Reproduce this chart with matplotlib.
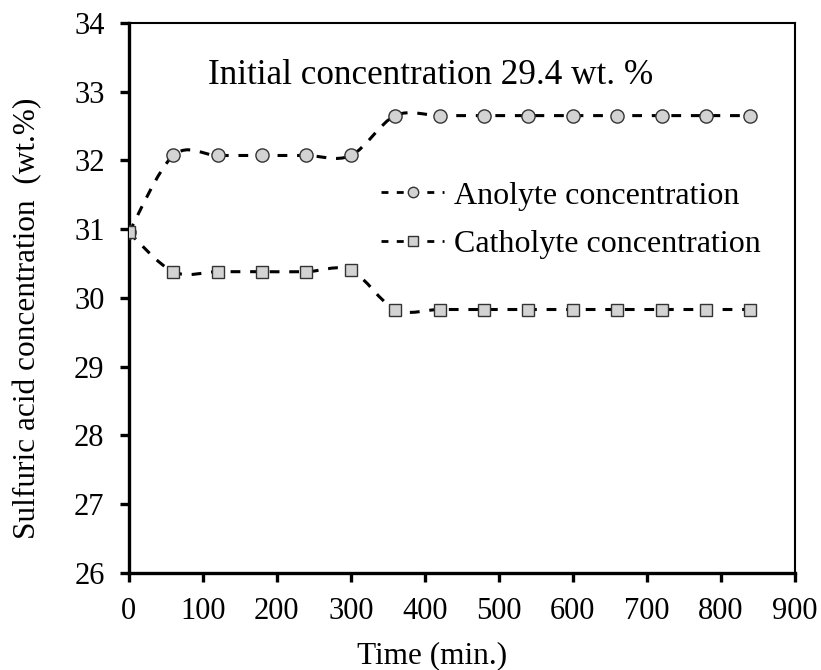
import numpy as np
import matplotlib.pyplot as plt
from matplotlib.path import Path
from matplotlib.patches import PathPatch
from matplotlib.lines import Line2D

plt.rcParams['font.family'] = ['Liberation Serif', 'DejaVu Serif']

# data
time = [0, 60, 120, 180, 240, 300, 360, 420, 480, 540, 600, 660, 720, 780, 840]
anolyte = [30.95, 32.07, 32.07, 32.07, 32.07, 32.07, 32.65, 32.65, 32.65,
           32.65, 32.65, 32.65, 32.65, 32.65, 32.65]
catholyte = [30.95, 30.38, 30.38, 30.38, 30.38, 30.40, 29.83, 29.83, 29.83,
             29.83, 29.83, 29.83, 29.83, 29.83, 29.83]


def smooth_path(x, y):
    # excel-like smoothed line: catmull-rom segments as cubic beziers
    x = np.asarray(x, float)
    y = np.asarray(y, float)
    verts = [(x[0], y[0])]
    codes = [Path.MOVETO]
    n = len(x)
    for i in range(n - 1):
        p0 = (x[max(i - 1, 0)], y[max(i - 1, 0)])
        p1 = (x[i], y[i])
        p2 = (x[i + 1], y[i + 1])
        p3 = (x[min(i + 2, n - 1)], y[min(i + 2, n - 1)])
        c1 = (p1[0] + (p2[0] - p0[0]) / 6, p1[1] + (p2[1] - p0[1]) / 6)
        c2 = (p2[0] - (p3[0] - p1[0]) / 6, p2[1] - (p3[1] - p1[1]) / 6)
        verts += [c1, c2, p2]
        codes += [Path.CURVE4] * 3
    return Path(verts, codes)


dash = (0, (3.2, 3.2))
fig = plt.figure(figsize=(8.21, 6.70), dpi=100)
ax = fig.add_axes([0.157, 0.145, 0.811, 0.821])

for yy in (anolyte, catholyte):
    ax.add_patch(PathPatch(smooth_path(time, yy), fill=False, ec='black',
                           lw=2.2, ls=dash, zorder=2))

ax.plot(time, anolyte, ls='none', marker='o', ms=9.5, mfc='#d3d3d3',
        mec='#333333', mew=1, zorder=3)
ax.plot(time, catholyte, ls='none', marker='s', ms=9, mfc='#d3d3d3',
        mec='#333333', mew=1, zorder=3)

ax.set_xlim(0, 900)
ax.set_ylim(26, 34)
ax.set_xticks(range(0, 901, 100))
ax.set_yticks(range(26, 35))
ax.tick_params(direction='out', length=6.5, width=2.4, labelsize=22, pad=11)
for s in ('left', 'bottom'):
    ax.spines[s].set_linewidth(2.4)
for s in ('top', 'right'):
    ax.spines[s].set_linewidth(1.5)

ax.set_xlabel('Time (min.)', fontsize=22.5, labelpad=12)
ax.xaxis.set_label_coords(0.456, -0.125)
ax.set_ylabel('Sulfuric acid concentration  (wt.%)', fontsize=22.5, labelpad=23)
ax.yaxis.label.set_y(0.462)

ax.text(0.119, 0.905, 'Initial concentration 29.4 wt. %', transform=ax.transAxes,
        fontsize=25.3, va='center', ha='left')

handles = [
    Line2D([], [], color='black', lw=2, ls=(0, (2.5, 3)), marker='o', ms=7.5,
           mfc='#d3d3d3', mec='#333333', mew=1),
    Line2D([], [], color='black', lw=2, ls=(0, (2.5, 3)), marker='s', ms=7,
           mfc='#d3d3d3', mec='#333333', mew=1),
]
ax.legend(handles, ['Anolyte concentration', 'Catholyte concentration'],
          loc='upper left', bbox_to_anchor=(0.354, 0.741), frameon=False,
          fontsize=23, handlelength=2.0, handletextpad=0.3, labelspacing=0.6,
          borderpad=0)

fig.savefig('out.png', dpi=100)
